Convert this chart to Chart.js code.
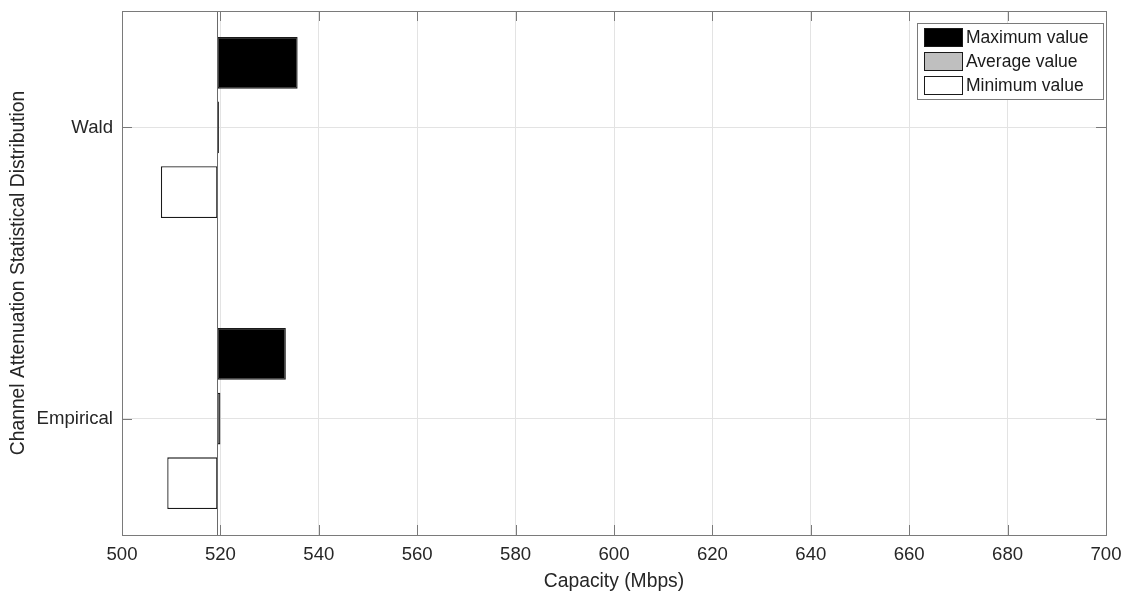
<!DOCTYPE html>
<html>
<head>
<meta charset="utf-8">
<script src="https://cdn.jsdelivr.net/npm/chart.js@4/dist/chart.umd.min.js"></script>
<style>
  html, body { margin: 0; padding: 0; background: #fff; }
  #c { display: block; }
</style>
</head>
<body>
<canvas id="c" width="1128" height="599"></canvas>
<script>
// Categories and their positions on the vertical axis (bottom to top)
const categories = ['Empirical', 'Wald'];
const categoryPos = [1, 2];

// Capacity values in Mbps, one per category
const maxValues = [533.3, 535.7];
const avgValues = [520.0, 519.7];
const minValues = [509.2, 507.9];

// Bars grow from this base value
const baseValue = 519.4;

// Axis tick values
const xTicks = [500, 520, 540, 560, 580, 600, 620, 640, 660, 680, 700];

const seriesNames = ['Maximum value', 'Average value', 'Minimum value'];
const seriesFill = ['#000000', '#bfbfbf', '#ffffff'];

const FONT = '"Liberation Sans", Arial, Helvetica, sans-serif';
const TEXT = '#262626';
const AXIS = '#7a7a7a';
const GRID = '#e3e3e3';
const EDGE = '#1a1a1a';

function toPoints(values) {
  return values.map((v, i) => ({ y: categoryPos[i], x: [baseValue, v] }));
}

const seriesValues = [maxValues, avgValues, minValues];

const datasets = seriesValues.map((vals, k) => ({
  label: seriesNames[k],
  data: toPoints(vals),
  backgroundColor: seriesFill[k],
  borderColor: EDGE,
  borderWidth: 1.3,
  borderSkipped: false,
  categoryPercentage: 2 / 3,
  barPercentage: 0.8
}));

// Frame, inward ticks, baseline and legend box
const framePlugin = {
  id: 'frame',
  afterDatasetsDraw(chart) {
    const { ctx, chartArea: a, scales } = chart;
    const xs = scales.x, ys = scales.y;
    ctx.save();

    // baseline of the bars
    const bx = Math.round(xs.getPixelForValue(baseValue)) + 0.5;
    ctx.strokeStyle = '#6a6a6a';
    ctx.lineWidth = 1;
    ctx.beginPath();
    ctx.moveTo(bx, a.top);
    ctx.lineTo(bx, a.bottom);
    ctx.stroke();

    // axes box
    ctx.strokeStyle = AXIS;
    ctx.lineWidth = 1;
    ctx.strokeRect(Math.round(a.left) + 0.5, Math.round(a.top) + 0.5,
                   Math.round(a.right - a.left), Math.round(a.bottom - a.top));

    // inward tick marks on all four sides
    const tl = 10;
    ctx.beginPath();
    xTicks.forEach(v => {
      const px = Math.round(xs.getPixelForValue(v)) + 0.5;
      ctx.moveTo(px, a.bottom); ctx.lineTo(px, a.bottom - tl);
      ctx.moveTo(px, a.top); ctx.lineTo(px, a.top + tl);
    });
    categoryPos.forEach(v => {
      const py = Math.round(ys.getPixelForValue(v)) + 0.5;
      ctx.moveTo(a.left, py); ctx.lineTo(a.left + tl, py);
      ctx.moveTo(a.right, py); ctx.lineTo(a.right - tl, py);
    });
    ctx.stroke();

    // legend
    const lx = 917, ly = 23, lw = 186, lh = 76;
    ctx.fillStyle = '#ffffff';
    ctx.fillRect(lx, ly, lw, lh);
    ctx.strokeStyle = AXIS;
    ctx.strokeRect(lx + 0.5, ly + 0.5, lw, lh);
    ctx.font = '17.5px ' + FONT;
    ctx.textBaseline = 'middle';
    ctx.textAlign = 'left';
    chart.data.datasets.forEach((ds, i) => {
      const sy = ly + 5 + i * 24;
      ctx.fillStyle = ds.backgroundColor;
      ctx.fillRect(924, sy, 38, 18);
      ctx.strokeStyle = EDGE;
      ctx.strokeRect(924.5, sy + 0.5, 38, 18);
      ctx.fillStyle = '#1a1a1a';
      ctx.fillText(ds.label, 966, sy + 10);
    });
    ctx.restore();
  }
};

new Chart(document.getElementById('c'), {
  type: 'bar',
  data: { datasets },
  plugins: [framePlugin],
  options: {
    indexAxis: 'y',
    responsive: false,
    animation: false,
    layout: { padding: { left: 0, top: 11, right: 22, bottom: 0 } },
    plugins: {
      legend: { display: false },
      tooltip: { enabled: false }
    },
    scales: {
      x: {
        type: 'linear',
        position: 'bottom',
        min: 500,
        max: 700,
        offset: false,
        afterBuildTicks: s => { s.ticks = xTicks.map(v => ({ value: v })); },
        afterFit: s => { s.height = 64; s.paddingRight = 0; s.paddingLeft = 0; },
        ticks: {
          font: { family: FONT, size: 18.6 },
          color: TEXT,
          padding: 9,
          maxRotation: 0
        },
        grid: { color: GRID, drawTicks: false, offset: false },
        border: { display: false },
        title: {
          display: true,
          text: 'Capacity (Mbps)',
          font: { family: FONT, size: 19.3 },
          color: TEXT,
          padding: { top: 0, bottom: 6 }
        }
      },
      y: {
        type: 'linear',
        position: 'left',
        min: 0.6,
        max: 2.4,
        offset: false,
        afterBuildTicks: s => { s.ticks = categoryPos.map(v => ({ value: v })); },
        afterFit: s => { s.width = 122; s.paddingTop = 0; s.paddingBottom = 0; },
        ticks: {
          font: { family: FONT, size: 18.6 },
          color: TEXT,
          padding: 9,
          callback: v => categories[categoryPos.indexOf(v)]
        },
        grid: { color: GRID, drawTicks: false, offset: false },
        border: { display: false },
        title: {
          display: true,
          text: 'Channel Attenuation Statistical Distribution',
          font: { family: FONT, size: 19.3 },
          color: TEXT,
          padding: { top: 7, bottom: 0 }
        }
      }
    }
  }
});
</script>
</body>
</html>
